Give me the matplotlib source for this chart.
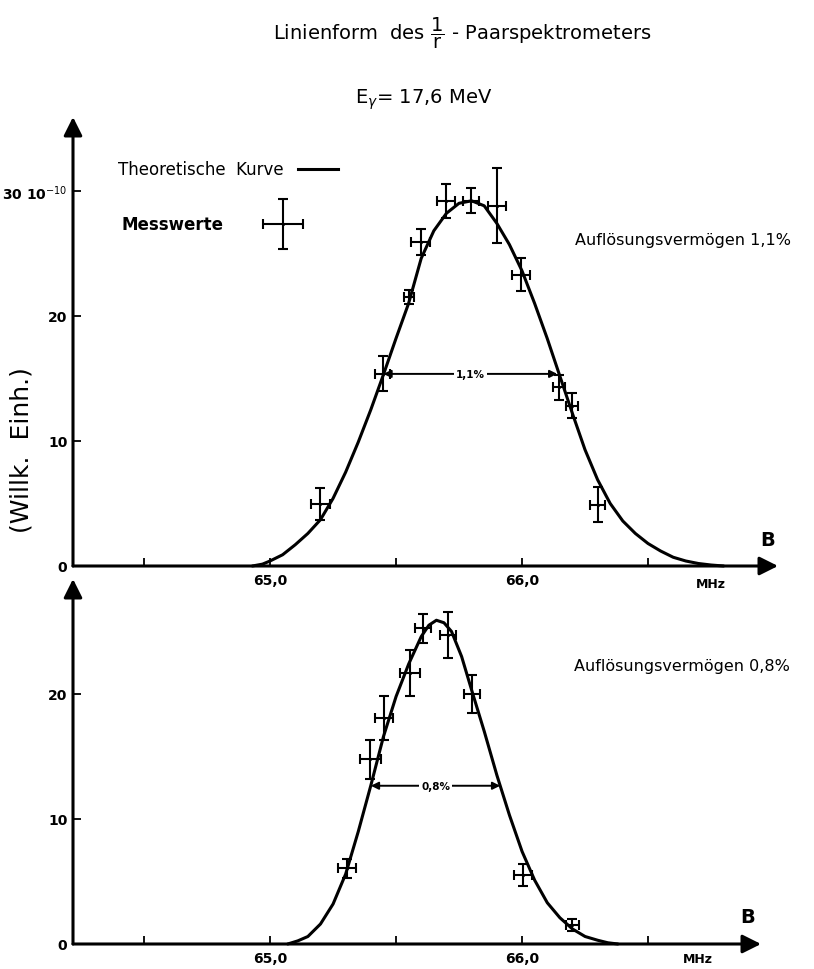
import numpy as np
import matplotlib
matplotlib.use("Agg")
from matplotlib import pyplot

# --- top panel: resolving power 1.1 % ---
top_x = [65.20, 65.447, 65.552, 65.598, 65.698, 65.798, 65.90, 65.996, 66.147, 66.20, 66.30]
top_y = [4.96, 15.36, 21.5, 25.9, 29.2, 29.2, 28.8, 23.3, 14.3, 12.8, 4.9]
top_xerr = [0.036, 0.03, 0.02, 0.038, 0.036, 0.032, 0.035, 0.036, 0.024, 0.024, 0.03]
top_yerr = [1.27, 1.4, 0.56, 1.04, 1.37, 1.0, 3.0, 1.33, 1.0, 1.0, 1.4]

top_curve_x = [64.93, 64.97, 65.00, 65.05, 65.10, 65.15, 65.20, 65.25, 65.30, 65.35,
               65.40, 65.45, 65.50, 65.55, 65.60, 65.65, 65.70, 65.75, 65.80, 65.85,
               65.90, 65.95, 66.00, 66.05, 66.10, 66.15, 66.20, 66.25, 66.30, 66.35,
               66.40, 66.45, 66.50, 66.55, 66.60, 66.65, 66.70, 66.75, 66.80]
top_curve_y = [0.0, 0.15, 0.4, 0.9, 1.7, 2.6, 3.7, 5.4, 7.5, 9.9,
               12.5, 15.3, 18.2, 21.0, 24.6, 26.8, 28.2, 29.0, 29.2, 28.8,
               27.4, 25.7, 23.6, 21.0, 18.2, 15.2, 12.2, 9.3, 6.9, 5.0,
               3.6, 2.6, 1.8, 1.2, 0.7, 0.4, 0.2, 0.08, 0.0]

# --- bottom panel: resolving power 0.8 % ---
bot_x = [65.305, 65.398, 65.453, 65.556, 65.608, 65.705, 65.80, 66.005, 66.20]
bot_y = [6.05, 14.8, 18.08, 21.7, 25.25, 24.7, 20.0, 5.52, 1.52]
bot_xerr = [0.037, 0.041, 0.036, 0.04, 0.032, 0.032, 0.032, 0.036, 0.024]
bot_yerr = [0.73, 1.56, 1.77, 1.84, 1.13, 1.84, 1.53, 0.9, 0.48]

bot_curve_x = [65.07, 65.11, 65.15, 65.20, 65.25, 65.30, 65.35, 65.40, 65.45, 65.50,
               65.55, 65.60, 65.63, 65.66, 65.69, 65.72, 65.76, 65.80, 65.85, 65.90,
               65.95, 66.00, 66.05, 66.10, 66.15, 66.20, 66.25, 66.30, 66.34, 66.38]
bot_curve_y = [0.0, 0.25, 0.6, 1.6, 3.2, 5.6, 9.0, 12.7, 16.6, 19.8,
               22.4, 24.6, 25.5, 25.9, 25.7, 25.0, 23.0, 20.3, 17.0, 13.5,
               10.3, 7.4, 5.1, 3.3, 2.1, 1.2, 0.6, 0.3, 0.1, 0.0]

# half-width markers (x from, x to, y, label)
top_fwhm = (65.45, 66.14, 15.36, "1,1%")
bot_fwhm = (65.40, 65.913, 12.66, "0,8%")

x_ticks = [64.5, 65.0, 65.5, 66.0, 66.5]
x_ticklabels = ["", "65,0", "", "66,0", ""]

W, H = 814, 970
fig = pyplot.figure(figsize=(W / 100, H / 100), dpi=100)


def px_axes(x0, y_bottom, x1, y_top):
    """Axes placed in pixel coordinates of the picture."""
    return fig.add_axes([x0 / W, 1 - y_bottom / H, (x1 - x0) / W, (y_bottom - y_top) / H])


def style_axes(ax, xlim, ylim, yticks, yticklabels):
    ax.set_xlim(*xlim)
    ax.set_ylim(*ylim)
    for s in ax.spines.values():
        s.set_visible(False)
    ax.patch.set_alpha(0)
    arrow = dict(arrowstyle="-|>", mutation_scale=28, lw=2.2, color="k",
                 shrinkA=0, shrinkB=0)
    ax.annotate("", xy=(1, 0), xytext=(0, 0), xycoords="axes fraction", arrowprops=arrow)
    ax.annotate("", xy=(0, 1), xytext=(0, 0), xycoords="axes fraction", arrowprops=arrow)
    ax.set_xticks(x_ticks)
    ax.set_xticklabels(x_ticklabels, fontweight="bold", fontsize=10)
    ax.set_yticks(yticks)
    ax.set_yticklabels(yticklabels, fontweight="bold", fontsize=10)
    ax.tick_params(direction="in", length=6, width=1.3, pad=5)
    ax.tick_params(axis="y", pad=4)


def draw_panel(ax, cx, cy, x, y, xerr, yerr, fwhm):
    ax.plot(cx, cy, color="k", lw=2.2, solid_capstyle="round",
            solid_joinstyle="round", clip_on=False)
    ax.errorbar(x, y, xerr=xerr, yerr=yerr, fmt="none", ecolor="k",
                elinewidth=1.5, capsize=3.5, capthick=1.5, clip_on=False)
    ax.plot(x, y, ".", color="k", ms=2.5)
    x0, x1, yh, lab = fwhm
    ax.annotate("", xy=(x0, yh), xytext=(x1, yh),
                arrowprops=dict(arrowstyle="<|-|>", mutation_scale=11, lw=1.4,
                                color="k", shrinkA=0, shrinkB=0))
    ax.text((x0 + x1) / 2, yh, lab, ha="center", va="center", fontsize=7.5,
            fontweight="bold", bbox=dict(fc="white", ec="none", pad=1.5))


# top panel
ax1 = px_axes(73, 567, 778, 118)
style_axes(ax1, (64.218, 67.016), (0, 35.9), [0, 10, 20, 30],
           ["0", "10", "20", r"30 10$^{-10}$"])
draw_panel(ax1, top_curve_x, top_curve_y, top_x, top_y, top_xerr, top_yerr, top_fwhm)

# legend drawn by hand like the original
ax1.plot([65.11, 65.27], [31.76, 31.76], color="k", lw=2.2)
ax1.errorbar([65.051], [27.36], xerr=[0.079], yerr=[2.0], fmt="none", ecolor="k",
             elinewidth=1.5, capsize=3.5, capthick=1.5)
ax1.plot([65.051], [27.36], ".", color="k", ms=2.5)
ax1.text(64.397, 31.76, "Theoretische  Kurve", fontsize=12, va="center", ha="left")
ax1.text(64.41, 27.36, "Messwerte", fontsize=12, va="center", ha="left", fontweight="bold")

# bottom panel
ax2 = px_axes(73, 945, 761, 580)
style_axes(ax2, (64.218, 66.948), (0, 29.2), [0, 10, 20], ["0", "10", "20"])
draw_panel(ax2, bot_curve_x, bot_curve_y, bot_x, bot_y, bot_xerr, bot_yerr, bot_fwhm)

# free texts
def ftext(x, y, s, **kw):
    fig.text(x / W, 1 - y / H, s, **kw)


ftext(462, 33, r"Linienform  des $\dfrac{\mathrm{1}}{\mathrm{r}}$ - Paarspektrometers",
      fontsize=14, ha="center", va="center")
ftext(424, 100, r"E$_{\gamma}$= 17,6 MeV", fontsize=14, ha="center", va="center")
ftext(575, 240, "Auflösungsvermögen 1,1%", fontsize=11.5, ha="left", va="center")
ftext(574, 667, "Auflösungsvermögen 0,8%", fontsize=11.5, ha="left", va="center")
ftext(768, 540, "B", fontsize=14, fontweight="bold", ha="center", va="center")
ftext(748, 918, "B", fontsize=14, fontweight="bold", ha="center", va="center")
ftext(711, 585, "MHz", fontsize=9, fontweight="bold", ha="center", va="center")
ftext(698, 960, "MHz", fontsize=9, fontweight="bold", ha="center", va="center")
ftext(22, 450, "(Willk.  Einh.)", fontsize=18, rotation=90, ha="center", va="center")

fig.savefig("out.png", dpi=100)
